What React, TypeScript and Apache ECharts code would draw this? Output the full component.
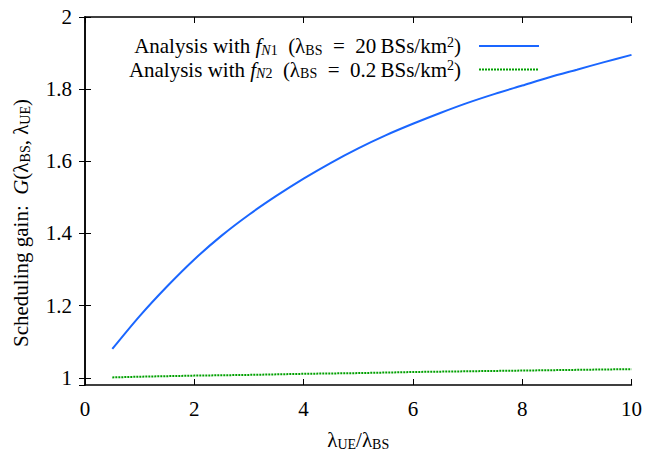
import React, { useEffect, useRef } from "react";
import * as echarts from "echarts";

const ratioFN1 = [0.5, 1, 1.5, 2, 2.5, 3, 3.5, 4, 4.5, 5, 5.5, 6, 6.5, 7, 7.5, 8, 8.5, 9, 9.5, 10];
const gainFN1 = [1.08, 1.171, 1.253, 1.328, 1.394, 1.452, 1.504, 1.552, 1.596, 1.636, 1.672, 1.704, 1.734, 1.762, 1.787, 1.81, 1.833, 1.854, 1.875, 1.895];
const ratioFN2 = [0.5, 1, 2, 3, 4, 5, 6, 7, 8, 9, 10];
const gainFN2 = [1.001, 1.003, 1.006, 1.008, 1.011, 1.013, 1.016, 1.018, 1.02, 1.022, 1.024];
const xTicks = [0, 10, 2];
const legendLabels = [
  "{t|Analysis with }{li|f}{ls|N}{lsu|1}{t|\u2002(λ}{lsu|BS}{t|\u2002=\u200220\u2009BSs/km}{lsup|2}{t|)}",
  "{t|Analysis with }{li|f}{ls|N}{lsu|2}{t|\u2002(λ}{lsu|BS}{t|\u2002=\u20020.2\u2009BSs/km}{lsup|2}{t|)}",
];
const seriesNames = ["fN1", "fN2"];

const FONT = "Liberation Serif";
const FS = 21;
const LFS = 21;
const rich = {
  i: { fontFamily: FONT, fontSize: FS, fontStyle: "italic", lineHeight: 22, color: "#000" },
  s: { fontFamily: FONT, fontSize: 14, lineHeight: 14, verticalAlign: "bottom", color: "#000" },
  si: { fontFamily: FONT, fontSize: 14, fontStyle: "italic", lineHeight: 14, verticalAlign: "bottom", color: "#000" },
};
const legendRich = {
  t: { fontFamily: FONT, fontSize: LFS, lineHeight: 22, color: "#000" },
  li: { fontFamily: FONT, fontSize: LFS, fontStyle: "italic", lineHeight: 22, color: "#000" },
  lsu: { fontFamily: FONT, fontSize: 14, lineHeight: 12, verticalAlign: "bottom", color: "#000" },
  ls: { fontFamily: FONT, fontSize: 14, fontStyle: "italic", lineHeight: 12, verticalAlign: "bottom", color: "#000" },
  lsup: { fontFamily: FONT, fontSize: 14, lineHeight: 12, verticalAlign: "top", color: "#000" },
};

export default function App() {
  const ref = useRef<HTMLDivElement>(null);
  useEffect(() => {
    if (!ref.current) return;
    const chart = echarts.init(ref.current, null, { renderer: "svg" });
    const legendText = {
      fontFamily: FONT,
      fontSize: LFS,
      lineHeight: 22,
      color: "#000",
      padding: [0, 13, 0, 0],
      rich: legendRich,
    };
    const legendBase = {
      right: 105,
      padding: 0,
      itemWidth: 60,
      itemHeight: 14,
      align: "right",
      itemStyle: { opacity: 0 },
      textStyle: legendText,
    };
    chart.setOption({
      animation: false,
      backgroundColor: "#fff",
      grid: { left: 85, right: 12, top: 17, bottom: 68, containLabel: false },
      legend: [
        { ...legendBase, data: [seriesNames[0]], top: 35, formatter: () => legendLabels[0] },
        { ...legendBase, data: [seriesNames[1]], top: 58.5, formatter: () => legendLabels[1] },
      ],
      xAxis: [
        {
          type: "value",
          min: xTicks[0],
          max: xTicks[1],
          interval: xTicks[2],
          name: "λ{s|UE}/λ{s|BS}",
          nameLocation: "middle",
          nameGap: 44,
          nameTextStyle: { fontFamily: FONT, fontSize: FS, lineHeight: 22, color: "#000", rich },
          axisLine: { lineStyle: { color: "#000", width: 1.5 } },
          axisTick: { inside: true, length: 6, lineStyle: { color: "#000" } },
          axisLabel: { margin: 13, fontFamily: FONT, fontSize: FS, color: "#000" },
          splitLine: { show: false },
        },
        {
          type: "value",
          position: "top",
          min: xTicks[0],
          max: xTicks[1],
          interval: xTicks[2],
          axisLine: { show: true, lineStyle: { color: "#000", width: 1.5 } },
          axisTick: { inside: true, length: 6, lineStyle: { color: "#000" } },
          axisLabel: { show: false },
          splitLine: { show: false },
        },
      ],
      yAxis: [
        {
          type: "value",
          min: 0.98,
          max: 2,
          axisLine: { show: true, lineStyle: { color: "#000", width: 1.5 } },
          axisTick: { inside: true, length: 6, lineStyle: { color: "#000" } },
          axisLabel: { showMinLabel: false, margin: 13, fontFamily: FONT, fontSize: FS, color: "#000", formatter: (v: number) => String(Math.round(v * 10) / 10) },
          splitLine: { show: false },
        },
        {
          type: "value",
          position: "right",
          min: 0.98,
          max: 2,
          axisLine: { show: true, lineStyle: { color: "#000", width: 1.5 } },
          axisTick: { inside: true, length: 6, lineStyle: { color: "#000" } },
          axisLabel: { show: false },
          splitLine: { show: false },
        },
      ],
      graphic: [
        {
          type: "text",
          x: 21,
          y: 223,
          rotation: Math.PI / 2,
          style: {
            text: "Scheduling gain:  {i|G}(λ{s|BS}, λ{s|UE})",
            fontFamily: FONT,
            fontSize: FS,
            lineHeight: 22,
            fill: "#000",
            align: "center",
            verticalAlign: "middle",
            rich,
          },
        },
      ],
      series: [
        {
          name: seriesNames[0],
          type: "line",
          xAxisIndex: 0,
          yAxisIndex: 0,
          showSymbol: false,
          symbol: "none",
          smooth: 0.3,
          data: ratioFN1.map((x, i) => [x, gainFN1[i]]),
          lineStyle: { color: "#1a66ff", width: 2 },
          itemStyle: { color: "#1a66ff" },
        },
        {
          name: seriesNames[1],
          type: "line",
          xAxisIndex: 0,
          yAxisIndex: 0,
          showSymbol: false,
          symbol: "none",
          data: ratioFN2.map((x, i) => [x, gainFN2[i]]),
          lineStyle: { color: "#00a000", width: 2, type: [2, 1] },
          itemStyle: { color: "#00a000" },
        },
      ],
    });
    return () => chart.dispose();
  }, []);
  return <div ref={ref} style={{ width: 645, height: 456, position: "absolute", left: 0, top: 0 }} />;
}
